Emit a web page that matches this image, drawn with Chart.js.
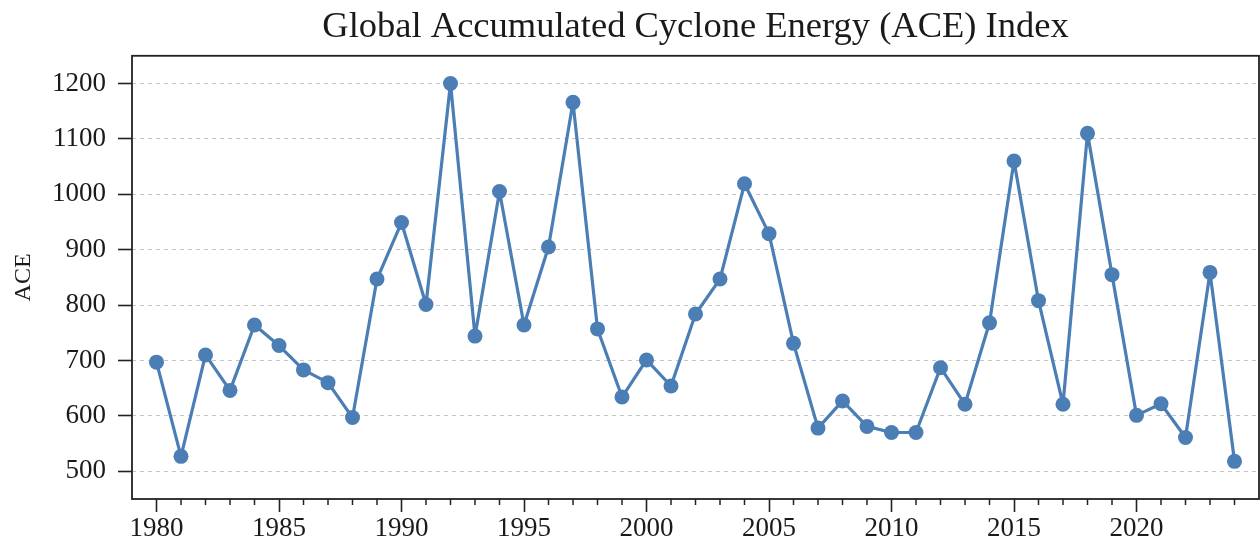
<!DOCTYPE html>
<html>
<head>
<meta charset="utf-8">
<script src="https://cdn.jsdelivr.net/npm/chart.js@4"></script>
<style>
  html, body { margin: 0; padding: 0; background: #fff; }
  #wrap { width: 1260px; height: 547px; }
</style>
</head>
<body>
<div id="wrap"><canvas id="ace-chart" width="1260" height="547"></canvas></div>
<script>
// Years and ACE values
const years = [
  1980, 1981, 1982, 1983, 1984, 1985, 1986, 1987, 1988, 1989,
  1990, 1991, 1992, 1993, 1994, 1995, 1996, 1997, 1998, 1999,
  2000, 2001, 2002, 2003, 2004, 2005, 2006, 2007, 2008, 2009,
  2010, 2011, 2012, 2013, 2014, 2015, 2016, 2017, 2018, 2019,
  2020, 2021, 2022, 2023, 2024
];
const aceValues = [
  697, 527, 710, 646, 764, 727, 683, 660, 597, 847,
  949, 801, 1200, 744, 1005, 764, 905, 1166, 757, 634,
  701, 654, 784, 847, 1019, 929, 731, 578, 627, 581,
  570, 570, 687, 621, 768, 1060, 808, 621, 1110, 855,
  601, 622, 561, 859, 518
];

// Tick positions
const xMajorTicks = [1980, 1985, 1990, 1995, 2000, 2005, 2010, 2015, 2020];
const yTicks = [500, 600, 700, 800, 900, 1000, 1100, 1200];

const lineColor = '#4a7eb5';
const inkColor = '#222222';
const serif = "'Liberation Serif', 'DejaVu Serif', serif";

// Draw the box around the plot and the small yearly ticks
const frameAndMinorTicks = {
  id: 'frameAndMinorTicks',
  afterDraw(chart) {
    const ctx = chart.ctx;
    const area = chart.chartArea;
    const xScale = chart.scales.x;
    ctx.save();
    ctx.strokeStyle = inkColor;
    ctx.lineWidth = 1.8;
    ctx.setLineDash([]);
    ctx.strokeRect(area.left, area.top, area.right - area.left, area.bottom - area.top);
    ctx.lineWidth = 1.5;
    years.forEach(function (yr) {
      if (xMajorTicks.indexOf(yr) !== -1) return;
      const px = xScale.getPixelForValue(yr);
      ctx.beginPath();
      ctx.moveTo(px, area.bottom);
      ctx.lineTo(px, area.bottom + 6);
      ctx.stroke();
    });
    ctx.restore();
  }
};

const points = years.map((yr, i) => ({ x: yr, y: aceValues[i] }));

new Chart(document.getElementById('ace-chart'), {
  type: 'line',
  data: {
    datasets: [{
      label: 'ACE',
      data: points,
      borderColor: lineColor,
      backgroundColor: lineColor,
      borderWidth: 3.2,
      borderJoinStyle: 'round',
      borderCapStyle: 'round',
      pointRadius: 7.5,
      pointBorderWidth: 0,
      pointBackgroundColor: lineColor,
      tension: 0,
      fill: false
    }]
  },
  options: {
    responsive: false,
    animation: false,
    layout: { autoPadding: false, padding: { left: 0, right: 1, top: 0, bottom: 0 } },
    plugins: {
      legend: { display: false },
      tooltip: { enabled: false },
      title: {
        display: true,
        fullSize: false,
        text: 'Global Accumulated Cyclone Energy (ACE) Index',
        color: '#1a1a1a',
        font: { family: serif, size: 36.5, weight: 'normal' },
        padding: { top: 6, bottom: 6 }
      }
    },
    scales: {
      x: {
        type: 'linear',
        min: 1979,
        max: 2025,
        afterBuildTicks: (scale) => {
          scale.ticks = xMajorTicks.map(v => ({ value: v }));
        },
        afterFit: (scale) => {
          scale.height = 48;
          scale.paddingLeft = 0;
          scale.paddingRight = 0;
        },
        ticks: {
          color: '#1a1a1a',
          font: { family: serif, size: 27 },
          padding: 1,
          maxRotation: 0,
          autoSkip: false,
          callback: (v) => String(v)
        },
        grid: {
          drawOnChartArea: false,
          drawTicks: true,
          tickLength: 13,
          tickColor: inkColor,
          tickWidth: 1.6
        },
        border: { display: false }
      },
      y: {
        min: 450,
        max: 1250,
        afterBuildTicks: (scale) => {
          scale.ticks = yTicks.map(v => ({ value: v }));
        },
        afterFit: (scale) => { scale.width = 132; },
        title: {
          display: true,
          text: 'ACE',
          color: '#1a1a1a',
          font: { family: serif, size: 24 },
          padding: { top: 9, bottom: 0 }
        },
        ticks: {
          color: '#1a1a1a',
          font: { family: serif, size: 27 },
          padding: 12,
          autoSkip: false,
          callback: (v) => String(v)
        },
        grid: {
          color: '#c6c6c6',
          lineWidth: 1,
          drawTicks: true,
          tickLength: 14,
          tickColor: inkColor,
          tickWidth: 1.6
        },
        border: { display: false, dash: [4, 4] }
      }
    }
  },
  plugins: [frameAndMinorTicks]
});
</script>
</body>
</html>
